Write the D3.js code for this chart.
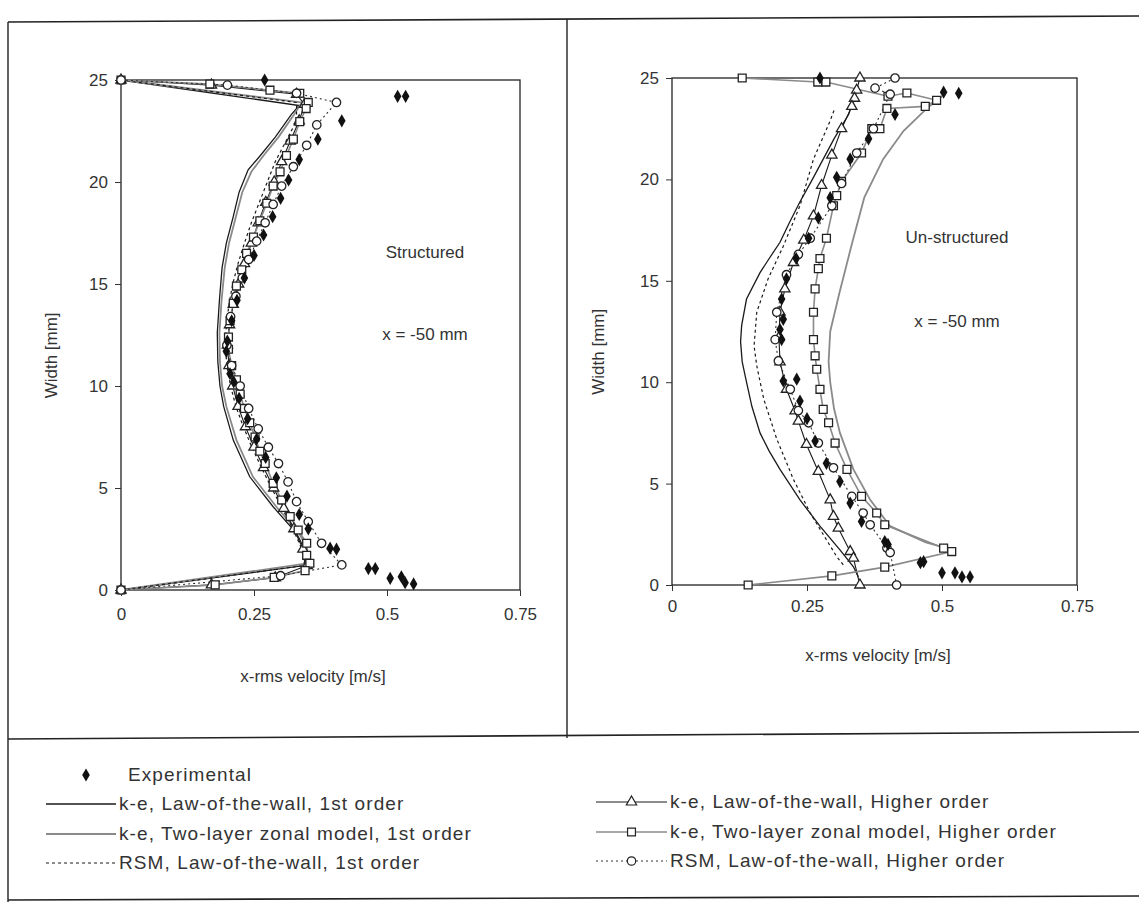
<!DOCTYPE html>
<html>
<head>
<meta charset="utf-8">
<script src="https://cdn.jsdelivr.net/npm/d3@7"></script>
<style>
  body { margin: 0; background: #fff; }
  svg { font-family: "Liberation Sans", Arial, sans-serif; }
  .tick text { fill: #333; }
</style>
</head>
<body>
<svg id="fig"></svg>
<script>
let width = 1139;
let height = 902;

// tick labels
const X_TICKS = [0, 0.25, 0.5, 0.75];
const Y_TICKS = [0, 5, 10, 15, 20, 25];

// ---- Structured grid (left panel), [velocity m/s, width mm] ----
const sExp = [[0.27,25],[0.52,24.2],[0.535,24.2],[0.415,23.0],[0.37,22.1],[0.335,21.1],[0.315,20.1],[0.30,19.2],
  [0.285,18.3],[0.268,17.4],[0.25,16.4],[0.232,15.3],[0.218,14.2],[0.208,13.2],[0.2,12.2],[0.198,11.7],[0.205,10.6],
  [0.212,10.2],[0.222,9.4],[0.238,8.4],[0.255,7.4],[0.272,6.5],[0.292,5.5],[0.312,4.6],[0.335,3.7],[0.352,3.0],
  [0.393,2.05],[0.405,2.0],[0.465,1.05],[0.478,1.05],[0.506,0.57],[0.527,0.65],[0.534,0.36],[0.55,0.3]];
const sKeLaw1 = [[0,25],[0.335,23.75],[0.32,23.3],[0.29,22.2],[0.262,21.3],[0.239,20.6],[0.222,19.5],[0.211,18.3],
  [0.198,17.0],[0.19,15.8],[0.185,14.2],[0.181,12.6],[0.182,11.2],[0.186,10.0],[0.193,9.0],[0.211,7.35],[0.242,5.55],
  [0.286,4.08],[0.33,2.78],[0.345,2.0],[0.345,1.2],[0,0]];
const sTwoLayer1 = [[0,25],[0.34,23.9],[0.325,23.3],[0.296,22.2],[0.268,21.3],[0.245,20.5],[0.228,19.5],[0.216,18.3],
  [0.203,17.0],[0.195,15.8],[0.189,14.2],[0.185,12.6],[0.186,11.2],[0.19,10.0],[0.198,9.0],[0.217,7.35],[0.248,5.55],
  [0.292,4.08],[0.335,2.78],[0.35,2.0],[0.35,1.3],[0,0]];
const sRsm1 = [[0,25],[0.33,23.9],[0.33,23.0],[0.31,22.0],[0.29,21.0],[0.275,20.0],[0.26,19.0],[0.245,18.0],[0.232,17.0],
  [0.22,16.0],[0.21,15.0],[0.203,14.0],[0.198,13.0],[0.196,12.0],[0.199,11.0],[0.206,10.0],[0.216,9.0],[0.23,8.0],
  [0.246,7.0],[0.264,6.0],[0.283,5.0],[0.303,4.0],[0.323,3.0],[0.34,2.0],[0.345,1.2],[0,0]];
const sKeLawH = [[0,25],[0.17,24.75],[0.33,24.3],[0.345,23.8],[0.335,23.0],[0.318,22.0],[0.302,21.0],[0.288,20.0],
  [0.272,19.0],[0.258,18.0],[0.245,17.0],[0.232,16.0],[0.221,15.0],[0.211,14.0],[0.204,13.0],[0.2,12.0],[0.203,11.0],
  [0.21,10.0],[0.22,9.0],[0.234,8.0],[0.25,7.0],[0.268,6.0],[0.287,5.0],[0.306,4.0],[0.325,3.0],[0.342,2.0],[0.35,1.2],
  [0.29,0.6],[0.17,0.25],[0,0]];
const sTwoLayerH = [[0,25],[0.167,24.8],[0.28,24.5],[0.336,24.35],[0.352,23.9],[0.348,23.6],[0.336,22.96],[0.324,22.1],
  [0.311,21.3],[0.299,20.5],[0.286,19.8],[0.274,18.96],[0.261,18.1],[0.249,17.3],[0.236,16.5],[0.227,15.7],[0.217,14.9],
  [0.211,14.05],[0.205,13.2],[0.202,12.4],[0.202,11.8],[0.208,11.0],[0.217,10.3],[0.224,9.6],[0.232,8.9],[0.242,8.2],
  [0.252,7.5],[0.261,6.8],[0.271,6.2],[0.286,5.23],[0.302,4.41],[0.318,3.6],[0.333,2.94],[0.349,2.29],[0.349,1.7],
  [0.355,1.31],[0.346,0.95],[0.288,0.62],[0.177,0.25],[0,0]];
const sRsmH = [[0,25],[0.2,24.75],[0.33,24.35],[0.405,23.9],[0.368,22.8],[0.349,21.8],[0.324,20.75],[0.302,19.8],
  [0.286,18.9],[0.271,18.0],[0.255,17.1],[0.24,16.2],[0.228,15.3],[0.216,14.4],[0.206,13.4],[0.199,12.0],[0.208,11.0],
  [0.224,10.0],[0.24,8.9],[0.258,7.9],[0.277,7.0],[0.296,6.2],[0.314,5.3],[0.33,4.33],[0.352,3.35],[0.377,2.29],
  [0.415,1.23],[0.3,0.7],[0,0]];

// ---- Un-structured grid (right panel) ----
const uExp = [[0.274,25],[0.503,24.3],[0.531,24.25],[0.413,23.2],[0.364,22.0],[0.33,21.0],[0.305,20.1],[0.293,19.1],
  [0.271,18.1],[0.253,17.1],[0.23,16.1],[0.212,15.1],[0.203,14.1],[0.206,13.1],[0.2,12.6],[0.203,12.1],[0.206,10.06],
  [0.231,10.15],[0.237,9.07],[0.25,8.2],[0.265,7.1],[0.286,6.0],[0.311,5.1],[0.33,4.04],[0.351,3.13],[0.394,2.14],
  [0.4,2.0],[0.46,1.1],[0.466,1.15],[0.5,0.6],[0.524,0.6],[0.537,0.4],[0.552,0.4]];
const uKeLaw1 = [[0.345,24.6],[0.327,23.2],[0.30,22.0],[0.28,21.0],[0.258,19.9],[0.237,18.9],[0.218,17.9],[0.2,16.9],
  [0.18,16.1],[0.163,15.4],[0.138,14.1],[0.129,12.8],[0.127,12.0],[0.13,11.0],[0.138,10.0],[0.148,8.8],[0.163,7.5],
  [0.18,6.6],[0.2,5.7],[0.237,4.2],[0.274,2.9],[0.311,1.73],[0.336,0.9],[0.345,0.4]];
const uTwoLayer1 = [[0.5,24.1],[0.472,23.5],[0.429,22.4],[0.391,21.0],[0.356,19.1],[0.332,16.7],[0.31,14.4],[0.293,12.5],
  [0.29,11.0],[0.293,10.0],[0.3,8.7],[0.311,7.5],[0.336,5.7],[0.367,4.2],[0.404,2.9],[0.47,2.1],[0.51,1.8]];
const uRsm1 = [[0.30,23.4],[0.293,22.9],[0.262,21.0],[0.237,18.7],[0.206,16.7],[0.178,15.1],[0.157,13.45],[0.152,11.8],
  [0.157,10.8],[0.17,9.16],[0.194,7.2],[0.225,5.2],[0.256,3.55],[0.286,2.23],[0.305,1.4],[0.32,0.9]];
const uKeLawH = [[0.348,25],[0.342,24.4],[0.338,24.0],[0.333,23.6],[0.314,22.5],[0.296,21.2],[0.277,19.7],[0.262,18.2],
  [0.244,17.0],[0.225,15.9],[0.209,14.6],[0.2,13.45],[0.198,12.2],[0.2,11.0],[0.212,9.65],[0.228,8.58],[0.234,8.08],
  [0.249,6.93],[0.271,5.6],[0.293,4.2],[0.299,3.38],[0.308,2.8],[0.33,1.65],[0.336,1.32],[0.348,0]];
const uTwoLayerH = [[0.13,25],[0.27,24.8],[0.285,24.8],[0.40,24.1],[0.435,24.26],[0.49,23.9],[0.469,23.6],[0.398,23.5],
  [0.385,22.5],[0.37,22.5],[0.351,21.3],[0.314,19.9],[0.305,19.2],[0.299,18.7],[0.286,17.1],[0.274,16.1],[0.271,15.6],
  [0.265,14.6],[0.262,13.45],[0.262,12.1],[0.265,11.3],[0.268,10.64],[0.274,9.65],[0.28,8.66],[0.29,8.0],[0.302,7.0],
  [0.324,5.7],[0.351,4.37],[0.379,3.55],[0.394,2.97],[0.503,1.82],[0.518,1.65],[0.394,0.88],[0.296,0.45],[0.141,0]];
const uRsmH = [[0.413,25],[0.376,24.5],[0.404,24.2],[0.373,22.5],[0.342,21.3],[0.314,19.8],[0.296,18.7],[0.256,17.1],
  [0.234,16.3],[0.212,15.3],[0.194,13.45],[0.191,12.1],[0.197,11.05],[0.219,9.65],[0.234,8.6],[0.253,8.0],[0.271,7.0],
  [0.299,5.78],[0.333,4.37],[0.354,3.55],[0.367,2.97],[0.398,1.82],[0.404,1.6],[0.416,0]];

const LEGEND_LABELS = [
  'Experimental',
  'k-e, Law-of-the-wall, 1st order',
  'k-e, Two-layer zonal model, 1st order',
  'RSM, Law-of-the-wall, 1st order',
  'k-e, Law-of-the-wall, Higher order',
  'k-e, Two-layer zonal model, Higher order',
  'RSM, Law-of-the-wall, Higher order'
];

// line / marker styles per model
const STYLES = {
  keLaw1:    { stroke: '#1a1a1a', width: 1.3, dash: null },
  twoLayer1: { stroke: '#8a8a8a', width: 1.8, dash: null },
  rsm1:      { stroke: '#1a1a1a', width: 1.2, dash: '3,3' },
  keLawH:    { stroke: '#1a1a1a', width: 1.1, dash: null, mark: 'triangle' },
  twoLayerH: { stroke: '#8a8a8a', width: 1.6, dash: null, mark: 'square' },
  rsmH:      { stroke: '#333', width: 1.1, dash: '2,3', mark: 'circle' }
};

let svg = d3.select('#fig')
  .attr('width', width)
  .attr('height', height);

svg.append('rect').attr('width', width).attr('height', height).attr('fill', '#fff');

// figure frame (scanned page borders)
let frame = svg.append('g').attr('stroke', '#222').attr('fill', 'none');
frame.append('line').attr('x1', 8).attr('y1', 22).attr('x2', 1139).attr('y2', 16).attr('stroke-width', 1.6);
frame.append('line').attr('x1', 8).attr('y1', 22).attr('x2', 8).attr('y2', 902).attr('stroke-width', 1.4);
frame.append('line').attr('x1', 567).attr('y1', 19).attr('x2', 567).attr('y2', 738).attr('stroke-width', 1.4);
frame.append('line').attr('x1', 8).attr('y1', 739).attr('x2', 1139).attr('y2', 732).attr('stroke-width', 1.6);
frame.append('line').attr('x1', 8).attr('y1', 900).attr('x2', 1139).attr('y2', 896).attr('stroke-width', 1.6);

const symbolFor = {
  triangle: d3.symbol(d3.symbolTriangle, 46),
  square: d3.symbol(d3.symbolSquare, 62),
  circle: d3.symbol(d3.symbolCircle, 56),
  diamond: d3.symbol(d3.symbolDiamond, 50)
};

function drawPanel(p) {
  let x = d3.scaleLinear().domain([0, 0.75]).range([p.left, p.right]);
  let y = d3.scaleLinear().domain([0, 25]).range([p.bottom, p.top]);
  let g = svg.append('g');

  // box
  g.append('rect')
    .attr('x', p.left).attr('y', p.top)
    .attr('width', p.right - p.left).attr('height', p.bottom - p.top)
    .attr('fill', 'none').attr('stroke', '#222').attr('stroke-width', 1.3);

  let xAxis = g.append('g')
    .attr('transform', `translate(0,${p.bottom})`)
    .call(d3.axisBottom(x).tickValues(X_TICKS).tickFormat(d3.format('')).tickSize(6).tickPadding(p.xPad));
  let yAxis = g.append('g')
    .attr('transform', `translate(${p.left},0)`)
    .call(d3.axisLeft(y).tickValues(Y_TICKS).tickSize(6).tickPadding(7));
  [xAxis, yAxis].forEach(a => {
    a.select('.domain').remove();
    a.selectAll('.tick line').attr('stroke', '#333');
    a.selectAll('.tick text').attr('font-size', 17).attr('font-family', '"Liberation Sans", Arial, sans-serif');
  });

  g.append('text')
    .attr('x', p.titleX).attr('y', p.titleY)
    .attr('text-anchor', 'middle').attr('font-size', 17).attr('fill', '#333')
    .text('x-rms velocity [m/s]');
  g.append('text')
    .attr('transform', `translate(${p.yTitleX},${y(11.5)}) rotate(-90)`)
    .attr('text-anchor', 'middle').attr('font-size', 17).attr('fill', '#333')
    .text('Width [mm]');
  g.append('text').attr('x', p.noteX).attr('y', p.noteY1).attr('text-anchor', 'middle')
    .attr('font-size', 17).attr('fill', '#333').text(p.note);
  g.append('text').attr('x', p.noteX).attr('y', p.noteY2).attr('text-anchor', 'middle')
    .attr('font-size', 17).attr('fill', '#333').text('x = -50 mm');

  let line = d3.line().x(d => x(d[0])).y(d => y(d[1]));

  p.series.forEach(s => {
    let st = STYLES[s.key];
    g.append('path')
      .datum(s.data)
      .attr('d', line)
      .attr('fill', 'none')
      .attr('stroke', st.stroke)
      .attr('stroke-width', st.width)
      .attr('stroke-dasharray', st.dash);
  });
  p.series.filter(s => STYLES[s.key].mark).forEach(s => {
    let st = STYLES[s.key];
    g.append('g').selectAll('path')
      .data(s.data)
      .enter()
      .append('path')
        .attr('d', symbolFor[st.mark])
        .attr('transform', d => `translate(${x(d[0])},${y(d[1])})`)
        .attr('fill', '#fff')
        .attr('stroke', '#222')
        .attr('stroke-width', 1.3);
  });
  g.append('g').selectAll('path')
    .data(p.exp)
    .enter()
    .append('path')
      .attr('d', symbolFor.diamond)
      .attr('transform', d => `translate(${x(d[0])},${y(d[1])})`)
      .attr('fill', '#111');
}

drawPanel({
  left: 121, right: 520, top: 80, bottom: 590, xPad: 12, titleX: 313, titleY: 682, yTitleX: 57,
  note: 'Structured', noteX: 425, noteY1: 258, noteY2: 340,
  exp: sExp,
  series: [
    { key: 'keLaw1', data: sKeLaw1 }, { key: 'twoLayer1', data: sTwoLayer1 }, { key: 'rsm1', data: sRsm1 },
    { key: 'keLawH', data: sKeLawH }, { key: 'twoLayerH', data: sTwoLayerH }, { key: 'rsmH', data: sRsmH }
  ]
});

drawPanel({
  left: 672, right: 1077, top: 78, bottom: 585, xPad: 9, titleX: 878, titleY: 661, yTitleX: 604,
  note: 'Un-structured', noteX: 957, noteY1: 243, noteY2: 327,
  exp: uExp,
  series: [
    { key: 'keLaw1', data: uKeLaw1 }, { key: 'twoLayer1', data: uTwoLayer1 }, { key: 'rsm1', data: uRsm1 },
    { key: 'keLawH', data: uKeLawH }, { key: 'twoLayerH', data: uTwoLayerH }, { key: 'rsmH', data: uRsmH }
  ]
});

// legend
let leg = svg.append('g').attr('font-size', 19).attr('fill', '#333').attr('letter-spacing', 1.1);
leg.append('path').attr('d', symbolFor.diamond).attr('transform', 'translate(86,775)').attr('fill', '#111');
leg.append('text').attr('x', 128).attr('y', 781).text(LEGEND_LABELS[0]);

const legendRows = [
  { key: 'keLaw1', x1: 46, x2: 116, y: 804, label: 1 },
  { key: 'twoLayer1', x1: 46, x2: 116, y: 834, label: 2 },
  { key: 'rsm1', x1: 46, x2: 116, y: 863, label: 3 },
  { key: 'keLawH', x1: 596, x2: 667, y: 802, label: 4 },
  { key: 'twoLayerH', x1: 596, x2: 667, y: 832, label: 5 },
  { key: 'rsmH', x1: 596, x2: 667, y: 861, label: 6 }
];
legendRows.forEach(r => {
  let st = STYLES[r.key];
  leg.append('line')
    .attr('x1', r.x1).attr('x2', r.x2).attr('y1', r.y).attr('y2', r.y)
    .attr('stroke', st.stroke).attr('stroke-width', st.width)
    .attr('stroke-dasharray', st.dash);
  if (st.mark) {
    leg.append('path').attr('d', symbolFor[st.mark])
      .attr('transform', `translate(${(r.x1 + r.x2) / 2},${r.y})`)
      .attr('fill', '#fff').attr('stroke', '#222').attr('stroke-width', 1.2);
  }
  leg.append('text').attr('x', r.x2 + 3).attr('y', r.y + 6).text(LEGEND_LABELS[r.label]);
});
</script>
</body>
</html>
